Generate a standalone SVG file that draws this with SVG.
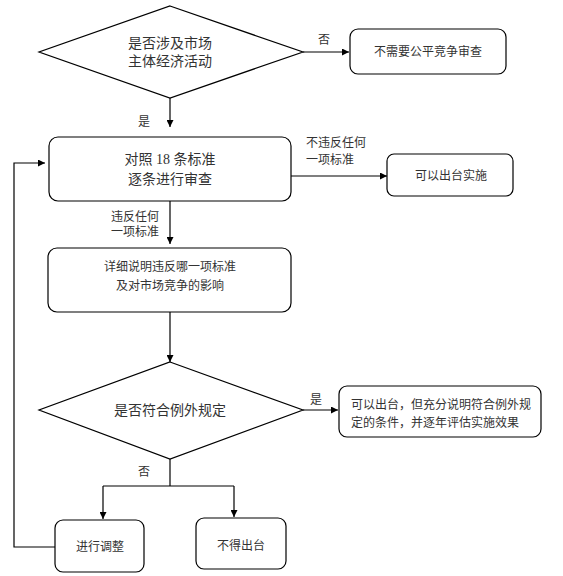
<svg xmlns="http://www.w3.org/2000/svg" width="563" height="576" viewBox="0 0 563 576">
<defs>
<marker id="arr" viewBox="0 0 10 10" refX="10" refY="5" markerWidth="7" markerHeight="7" markerUnits="userSpaceOnUse" orient="auto">
<path d="M0,0 L10,5 L0,10 z" fill="#000"/>
</marker>
<style>
.shape{fill:#fff;stroke:#000;stroke-width:1.2}
.conn{fill:none;stroke:#000;stroke-width:1.2}
text{font-family:"Liberation Serif","Noto Sans CJK SC",serif;fill:#333}
.t14{font-size:14px;text-anchor:middle}
.t12{font-size:12px;text-anchor:middle}
.l12{font-size:12px}
</style>
</defs>
<rect width="563" height="576" fill="#fff"/>
<g id="connectors">
<path class="conn" d="M303,52 H349" marker-end="url(#arr)"/>
<path class="conn" d="M170,98 V127" marker-end="url(#arr)"/>
<path class="conn" d="M291,176 H387" marker-end="url(#arr)"/>
<path class="conn" d="M170,201 V244" marker-end="url(#arr)"/>
<path class="conn" d="M170,312 V362" marker-end="url(#arr)"/>
<path class="conn" d="M303,410 H338" marker-end="url(#arr)"/>
<path class="conn" d="M170,459 V486"/>
<path class="conn" d="M103,486 H234"/>
<path class="conn" d="M103,486 V519" marker-end="url(#arr)"/>
<path class="conn" d="M234,486 V517" marker-end="url(#arr)"/>
<path class="conn" d="M55,547 H14 V163 H45" marker-end="url(#arr)"/>
<text class="l12" x="324" y="44" text-anchor="middle">否</text>
<text class="l12" x="144" y="126" text-anchor="middle">是</text>
<text class="l12" x="306" y="147">不违反任何</text>
<text class="l12" x="306" y="164">一项标准</text>
<text class="l12" x="111" y="221">违反任何</text>
<text class="l12" x="111" y="236">一项标准</text>
<text class="l12" x="316" y="404" text-anchor="middle">是</text>
<text class="l12" x="144" y="476" text-anchor="middle">否</text>
</g>
<g id="d1">
<polygon class="shape" points="170,6 303,52 170,98 39,52"/>
<text class="t14" x="170" y="48">是否涉及市场</text>
<text class="t14" x="170" y="66">主体经济活动</text>
</g>
<g id="n_no_review">
<rect class="shape" x="350" y="29" width="156" height="45" rx="8"/>
<text class="t12" x="428" y="56">不需要公平竞争审查</text>
</g>
<g id="n_compare">
<rect class="shape" x="49" y="137" width="242" height="64" rx="9"/>
<text class="t14" x="170" y="164">对照 18 条标准</text>
<text class="t14" x="170" y="184">逐条进行审查</text>
</g>
<g id="n_ok">
<rect class="shape" x="387" y="154" width="126" height="42" rx="7"/>
<text class="t12" x="451" y="180">可以出台实施</text>
</g>
<g id="n_detail">
<rect class="shape" x="48" y="248" width="243" height="64" rx="9"/>
<text class="t12" x="170" y="271">详细说明违反哪一项标准</text>
<text class="t12" x="170" y="290">及对市场竞争的影响</text>
</g>
<g id="d2">
<polygon class="shape" points="170,362 303,410 170,459 39,410"/>
<text class="t14" x="170" y="415">是否符合例外规定</text>
</g>
<g id="n_exception">
<rect class="shape" x="339" y="386" width="202" height="51" rx="8"/>
<text class="l12" x="351" y="409">可以出台，但充分说明符合例外规</text>
<text class="l12" x="351" y="427">定的条件，并逐年评估实施效果</text>
</g>
<g id="n_adjust">
<rect class="shape" x="55" y="520" width="89" height="52" rx="8"/>
<text class="t12" x="100" y="551">进行调整</text>
</g>
<g id="n_forbid">
<rect class="shape" x="196" y="518" width="90" height="51" rx="8"/>
<text class="t12" x="241" y="550">不得出台</text>
</g>
</svg>
